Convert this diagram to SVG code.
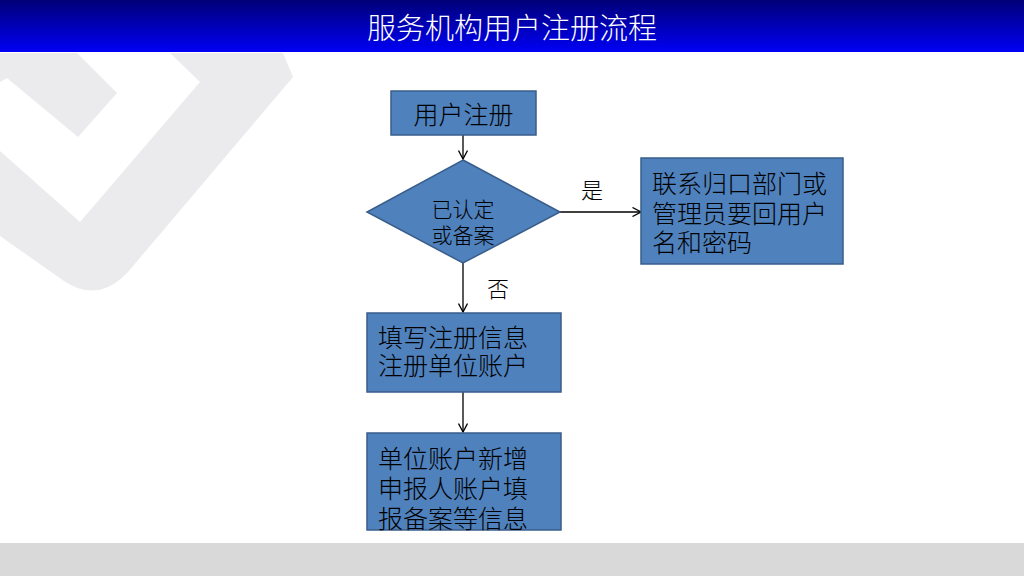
<svg xmlns="http://www.w3.org/2000/svg" width="1024" height="576" viewBox="0 0 1024 576">
  <defs>
    <linearGradient id="titleGrad" x1="0" y1="0" x2="0" y2="1">
      <stop offset="0" stop-color="#000078"/>
      <stop offset="1" stop-color="#0000f5"/>
    </linearGradient>
    <marker id="arrow" viewBox="0 0 10 10" refX="9.5" refY="5" markerWidth="10" markerHeight="10" markerUnits="userSpaceOnUse" orient="auto">
      <path d="M1,0.5 L9.5,5 L1,9.5" fill="none" stroke="#000" stroke-width="1.3"/>
    </marker>
    <style>
      .node { fill: #4f81bd; stroke: #385d8a; stroke-width: 1.5; }
      .txt { font-family: "Noto Sans CJK SC", "Noto Sans", sans-serif; fill: #000; dominant-baseline: central; font-weight: 300; }
      .big { font-size: 25px; }
      .mid { font-size: 21px; }
      .lbl { font-size: 22px; }
      .conn { stroke: #000; stroke-width: 1.3; fill: none; marker-end: url(#arrow); }
      .wm { fill: #ebebee; }
    </style>
  </defs>

  <rect x="0" y="0" width="1024" height="576" fill="#ffffff"/>

  <!-- watermark -->
  <g id="watermark">
    <path class="wm" d="M0,53 L77,53 L117,93 L78,137 L7,78 L0,82 Z"/>
    <path class="wm" d="M170,53 L283,53 L293,77 L128,272 Q98,304 64,281 L0,236 L0,151 L80,222 L200,82 Z"/>
  </g>

  <!-- title bar -->
  <g id="title">
    <rect x="0" y="0" width="1024" height="52" fill="url(#titleGrad)"/>
    <text x="512" y="26" text-anchor="middle" font-family="Noto Sans CJK SC, Noto Sans, sans-serif" font-size="29" font-weight="300" fill="#ffffff" dominant-baseline="central">服务机构用户注册流程</text>
  </g>

  <!-- footer band -->
  <rect x="0" y="543" width="1024" height="33" fill="#d9d9d9"/>

  <!-- connectors -->
  <g id="connectors">
    <line class="conn" x1="463" y1="135" x2="463" y2="159"/>
    <line class="conn" x1="560" y1="212" x2="641" y2="212"/>
    <line class="conn" x1="463" y1="263" x2="463" y2="312"/>
    <line class="conn" x1="463" y1="392" x2="463" y2="432"/>
    <text class="txt lbl" x="592" y="188" text-anchor="middle">是</text>
    <text class="txt lbl" x="498" y="287" text-anchor="middle">否</text>
  </g>

  <g id="node-register">
    <rect class="node" x="391" y="91" width="145" height="44"/>
    <text class="txt big" x="463.5" y="113" text-anchor="middle">用户注册</text>
  </g>

  <g id="node-decision">
    <polygon class="node" points="463,160 560,212 463,263 367,212"/>
    <text class="txt mid" text-anchor="middle"><tspan x="463" y="208">已认定</tspan><tspan x="463" y="234">或备案</tspan></text>
  </g>

  <g id="node-contact">
    <rect class="node" x="641" y="158" width="202" height="106"/>
    <text class="txt big"><tspan x="652" y="182">联系归口部门或</tspan><tspan x="652" y="212">管理员要回用户</tspan><tspan x="652" y="241">名和密码</tspan></text>
  </g>

  <g id="node-fill">
    <rect class="node" x="367" y="313" width="194" height="79"/>
    <text class="txt big"><tspan x="378" y="336">填写注册信息</tspan><tspan x="378" y="364">注册单位账户</tspan></text>
  </g>

  <g id="node-add">
    <rect class="node" x="367" y="433" width="194" height="97"/>
    <text class="txt big"><tspan x="378" y="457">单位账户新增</tspan><tspan x="378" y="487">申报人账户填</tspan><tspan x="378" y="517">报备案等信息</tspan></text>
  </g>
</svg>
